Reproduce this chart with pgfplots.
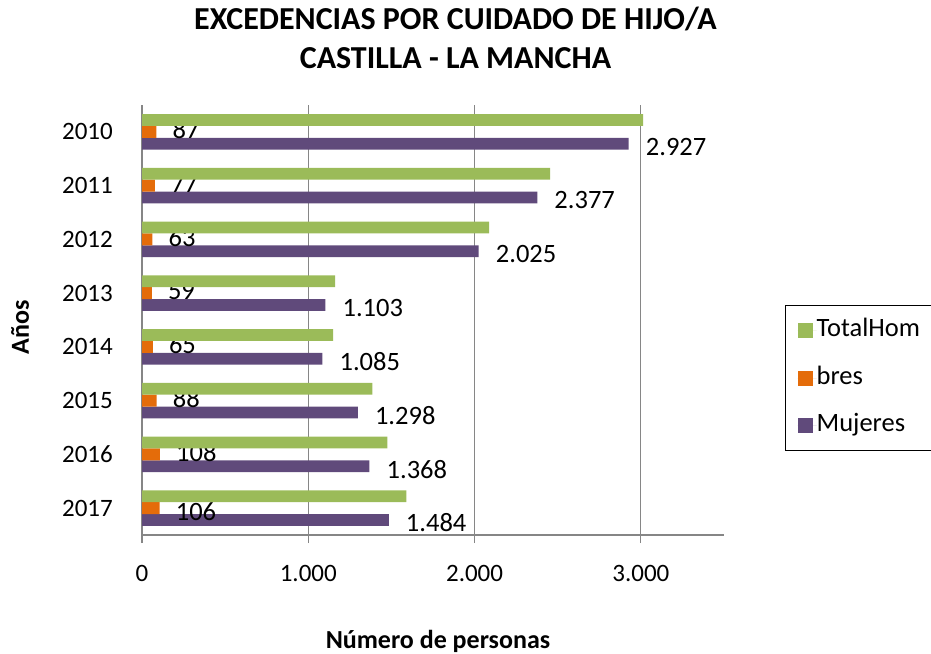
\documentclass[border=0pt]{standalone}
\usepackage{fontspec}
\setmainfont{Carlito}
\usepackage{pgfplots}
\usepackage{pgfplotstable}
\pgfplotsset{compat=1.18}
\definecolor{cgreen}{HTML}{9BBB59}
\definecolor{corange}{HTML}{E46C0A}
\definecolor{cpurple}{HTML}{604A7B}
\definecolor{cgrid}{HTML}{868686}
\pgfplotstableread{
y tot hom muj offh offm lh lm
0 3014 87 2927 2 -3 87 2.927
1 2454 77 2377 2 -3 77 2.377
2 2088 63 2025 2 -3 63 2.025
3 1162 59 1103 2 -3 59 1.103
4 1150 65 1085 2 -3 65 1.085
5 1386 88 1298 2 -3 88 1.298
6 1476 108 1368 2 -3 108 1.368
7 1590 106 1484 -4 -3 106 1.484
}\datatable
\begin{document}
\begin{tikzpicture}
\path[use as bounding box] (0pt,0pt) rectangle (931pt,653pt);
\node[align=center, font=\fontsize{32}{39}\bfseries\selectfont] at (455.5pt,615.5pt) {EXCEDENCIAS POR CUIDADO DE HIJO/A\\CASTILLA - LA MANCHA};
\node[font=\fontsize{26}{30}\bfseries\selectfont, rotate=90] at (20pt,326pt) {Años};
\node[font=\fontsize{26}{30}\bfseries\selectfont] at (438pt,12pt) {Número de personas};
\begin{axis}[
  clip marker paths=true,
  at={(142pt,118pt)}, anchor=south west,
  scale only axis, width=582pt, height=430pt,
  xbar, bar width=0.22,
  xmin=0, xmax=3500, ymin=-0.5, ymax=7.5,
  y dir=reverse,
  axis x line*=bottom, axis y line*=left,
  axis line style={cgrid, line width=1.2pt},
  xtick={0,1000,2000,3000},
  xticklabels={0,1.000,2.000,3.000},
  ytick={0,1,2,3,4,5,6,7},
  yticklabels={2010,2011,2012,2013,2014,2015,2016,2017},
  xmajorgrids, major grid style={cgrid, line width=1.2pt},
  x tick style={cgrid, line width=1.2pt}, tick align=outside, major tick length=8pt,
  y tick style={draw=none},
  ticklabel style={font=\fontsize{25}{30}\selectfont},
  xticklabel style={inner sep=0pt, yshift=-22pt},
  yticklabel style={inner sep=0pt, xshift=-21pt},
  legend style={at={(rel axis cs:1.1048,0.5349)}, anchor=north west, draw=black, line width=1.2pt,
    font=\fontsize{26.5}{30}\selectfont, inner xsep=12pt, inner ysep=14pt, row sep=25.5pt,
    nodes={inner sep=0pt, text height=17pt, text depth=5pt}},
  legend cell align=left,
  legend image code/.code={\fill[#1, draw=none] (0pt,-7.5pt) rectangle (15pt,7.5pt); \path (0pt,0pt) -- (19pt,0pt);},
  reverse legend,
  nodes near coords style={font=\fontsize{26.5}{30}\selectfont, anchor=west, inner sep=0pt, text=black},
]
\addplot[fill=cpurple, draw=none, bar shift=0.22,
  point meta=explicit symbolic, nodes near coords,
  visualization depends on={\thisrow{offm}\as\myoff},
  every node near coord/.append style={xshift=17pt, yshift=\myoff pt}]
  table[x=muj, y=y, meta=lm] {\datatable};
\addlegendentry{Mujeres}
\addplot[fill=corange, draw=none, bar shift=0,
  point meta=explicit symbolic, nodes near coords,
  visualization depends on={\thisrow{offh}\as\myoff},
  every node near coord/.append style={xshift=16pt, yshift=\myoff pt}]
  table[x=hom, y=y, meta=lh] {\datatable};
\addlegendentry{bres}
\addplot[fill=cgreen, draw=none, bar shift=-0.22]
  table[x=tot, y=y] {\datatable};
\addlegendentry{TotalHom}
\end{axis}
\end{tikzpicture}
\end{document}
